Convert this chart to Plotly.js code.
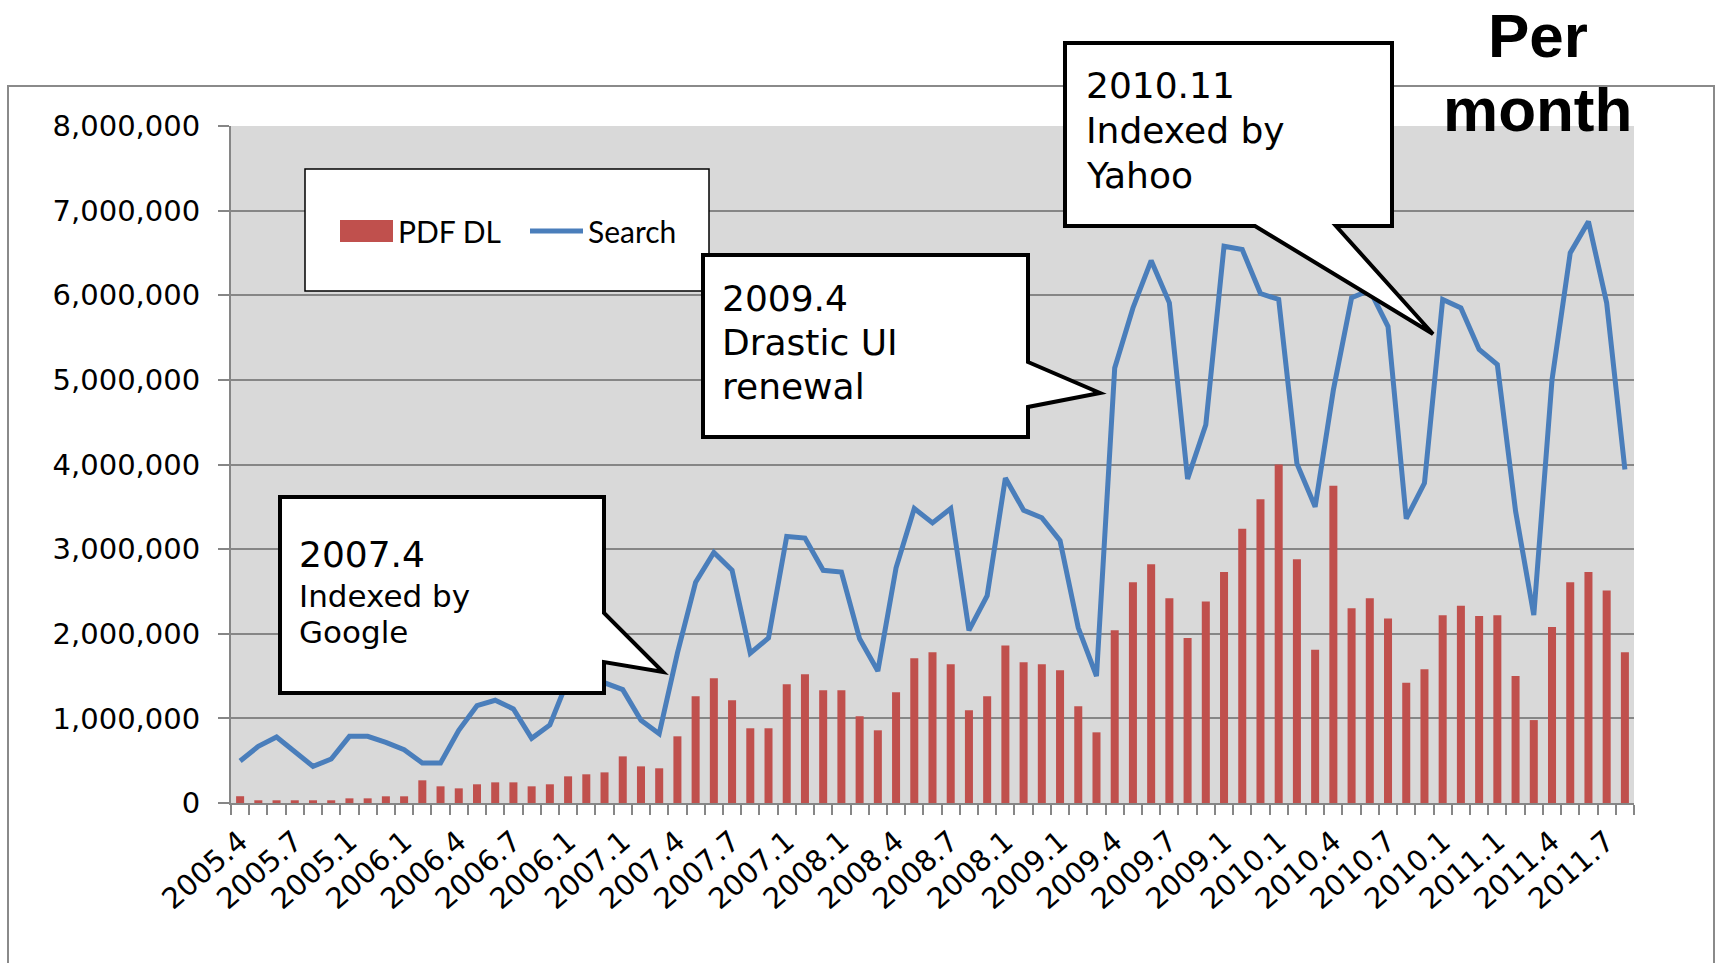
<!DOCTYPE html>
<html>
<head>
<meta charset="utf-8">
<script src="https://cdn.plot.ly/plotly-3.0.1.min.js"></script>
<style>html,body{margin:0;padding:0;background:#fff;}#chart{width:1716px;height:963px;}</style>
</head>
<body>
<div id="chart"></div>
<script>
// Monthly categories, 2005.4 – 2011.8
const months = [
  "2005.4","2005.5","2005.6","2005.7","2005.8","2005.9","2005.10","2005.11","2005.12",
  "2006.1","2006.2","2006.3","2006.4","2006.5","2006.6","2006.7","2006.8","2006.9","2006.10","2006.11","2006.12",
  "2007.1","2007.2","2007.3","2007.4","2007.5","2007.6","2007.7","2007.8","2007.9","2007.10","2007.11","2007.12",
  "2008.1","2008.2","2008.3","2008.4","2008.5","2008.6","2008.7","2008.8","2008.9","2008.10","2008.11","2008.12",
  "2009.1","2009.2","2009.3","2009.4","2009.5","2009.6","2009.7","2009.8","2009.9","2009.10","2009.11","2009.12",
  "2010.1","2010.2","2010.3","2010.4","2010.5","2010.6","2010.7","2010.8","2010.9","2010.10","2010.11","2010.12",
  "2011.1","2011.2","2011.3","2011.4","2011.5","2011.6","2011.7","2011.8"
];
// Tick labels as printed (every third month; October printed as ".1")
const tickLabels = [
  "2005.4","2005.7","2005.1","2006.1","2006.4","2006.7","2006.1","2007.1","2007.4","2007.7","2007.1",
  "2008.1","2008.4","2008.7","2008.1","2009.1","2009.4","2009.7","2009.1","2010.1","2010.4","2010.7",
  "2010.1","2011.1","2011.4","2011.7"
];
const pdfDL = [
  80000,32000,32000,32000,32000,32000,55000,55000,79000,
  79000,268000,197000,173000,221000,244000,244000,197000,221000,315000,339000,362000,
  551000,433000,410000,788000,1261000,1473000,1214000,883000,883000,1403000,1521000,1332000,
  1332000,1024000,859000,1308000,1710000,1781000,1639000,1095000,1261000,1860000,1663000,1639000,
  1568000,1143000,835000,2040000,2610000,2820000,2420000,1950000,2380000,2730000,3240000,3590000,
  4000000,2880000,1810000,3750000,2300000,2420000,2180000,1420000,1580000,2220000,2330000,2210000,
  2220000,1500000,980000,2080000,2610000,2730000,2510000,1780000
];
const search = [
  496000,670000,780000,615000,433000,520000,788000,788000,717000,
  630000,473000,473000,859000,1150000,1214000,1111000,764000,922000,1460000,1430000,1420000,
  1340000,977000,819000,1770000,2610000,2960000,2750000,1770000,1950000,3150000,3130000,2750000,
  2730000,1940000,1560000,2780000,3480000,3310000,3480000,2040000,2450000,3840000,3460000,3370000,
  3100000,2070000,1500000,5140000,5850000,6410000,5910000,3830000,4470000,6580000,6540000,6020000,
  5950000,4010000,3500000,4880000,5970000,6060000,5630000,3360000,3780000,5950000,5850000,5360000,
  5180000,3450000,2220000,5000000,6500000,6870000,5910000,3940000
];

const ticktext = months.map((m, i) => (i % 3 === 0 ? tickLabels[i / 3] : ""));

// pixel -> paper helpers (plot area: x 231..1634, y 126..803)
const L = 231, R = 1634, T = 126, B = 803;
const pX = x => (x - L) / (R - L);
const pY = y => (B - y) / (B - T);
const pathPx = pts => "M" + pts.map(p => pX(p[0]).toFixed(5) + "," + pY(p[1]).toFixed(5)).join(" L") + " Z";

const calloutStyle = {type: "path", xref: "paper", yref: "paper", layer: "above",
  fillcolor: "#ffffff", line: {color: "#000000", width: 4}};

const shapes = [
  // outer chart frame
  {type: "rect", xref: "paper", yref: "paper", layer: "below",
   x0: pX(8), x1: pX(1714), y0: pY(990), y1: pY(86),
   fillcolor: "rgba(0,0,0,0)", line: {color: "#8a8a8a", width: 2}},
  // legend box
  {type: "rect", xref: "paper", yref: "paper", layer: "above",
   x0: pX(305), x1: pX(709), y0: pY(291), y1: pY(169),
   fillcolor: "#ffffff", line: {color: "#000000", width: 1.5}},
  Object.assign({}, calloutStyle, {path: pathPx([[280,497],[604,497],[604,613],[663,672],[604,662],[604,693],[280,693]])}),
  Object.assign({}, calloutStyle, {path: pathPx([[703,255],[1028,255],[1028,362],[1100,393],[1028,407],[1028,437],[703,437]])}),
  Object.assign({}, calloutStyle, {path: pathPx([[1065,43],[1392,43],[1392,226],[1336,226],[1433,334],[1255,226],[1065,226]])})
];

const txt = (text, x, baseline, size, extra) => Object.assign({
  text: text, xref: "paper", yref: "paper", x: pX(x - 3), y: pY(baseline - 0.35 * size),
  xanchor: "left", yanchor: "middle", showarrow: false,
  font: {family: "DejaVu Sans", size: size, color: "#000000"}
}, extra || {});

const annotations = [
  txt("2007.4", 300, 567, 36),
  txt("Indexed by", 300, 607, 31),
  txt("Google", 300, 643, 31),
  txt("2009.4", 723, 311, 36),
  txt("Drastic UI", 723, 355, 36),
  txt("renewal", 723, 399, 36),
  txt("2010.11", 1087, 98, 36),
  txt("Indexed by", 1087, 143, 36),
  txt("Yahoo", 1087, 188, 36),
  {text: "Per", xref: "paper", yref: "paper", x: pX(1538), y: pY(57 - 21.5), xanchor: "center", yanchor: "middle",
   showarrow: false, font: {family: "Liberation Sans", size: 62, weight: 700, color: "#000000"}},
  {text: "month", xref: "paper", yref: "paper", x: pX(1537), y: pY(131 - 21.5), xanchor: "center", yanchor: "middle",
   showarrow: false, font: {family: "Liberation Sans", size: 62, weight: 700, color: "#000000"}}
];

const traces = [
  {type: "bar", name: "PDF DL", x: months, y: pdfDL, marker: {color: "#c0504d"}, hoverinfo: "x+y"},
  {type: "scatter", mode: "lines", name: "Search", x: months, y: search,
   line: {color: "#4a7ebb", width: 5}, hoverinfo: "x+y"}
];

const layout = {
  width: 1716, height: 963,
  margin: {l: L, r: 1716 - R, t: T, b: 963 - B, pad: 0},
  paper_bgcolor: "#ffffff", plot_bgcolor: "#d9d9d9",
  bargap: 0.56,
  showlegend: true,
  legend: {orientation: "h", x: pX(335), y: pY(231), xanchor: "left", yanchor: "middle",
    bgcolor: "rgba(0,0,0,0)", borderwidth: 0, itemwidth: 53, entrywidth: 122,
    font: {family: "Lato", size: 30, color: "#000000"}},
  xaxis: {type: "category", categoryorder: "array", categoryarray: months,
    range: [-0.5, months.length - 0.5],
    tickmode: "array", tickvals: months, ticktext: ticktext, tickson: "boundaries",
    ticks: "outside", ticklen: 10, tickwidth: 2, tickcolor: "#868686",
    showline: true, linecolor: "#868686", linewidth: 2, showgrid: false,
    tickangle: -41, ticklabelstandoff: 8,
    tickfont: {family: "DejaVu Sans", size: 29, color: "#000000"}},
  yaxis: {range: [0, 8000000], dtick: 1000000, tick0: 0, tickformat: ",d",
    showgrid: true, gridcolor: "#868686", gridwidth: 2, zeroline: false,
    ticks: "outside", ticklen: 11, tickwidth: 2, tickcolor: "#868686",
    showline: true, linecolor: "#868686", linewidth: 2, ticklabelstandoff: 12,
    tickfont: {family: "DejaVu Sans", size: 29, color: "#000000"}},
  shapes: shapes,
  annotations: annotations
};

Plotly.newPlot("chart", traces, layout, {displayModeBar: false, staticPlot: true}).then(function (gd) {
  // widen the bar legend swatch to the wide rectangle used in the original
  gd.querySelectorAll(".legend .legendpoints path").forEach(function (p) {
    const d = p.getAttribute("d") || "";
    if (d.indexOf("M6,6H-6V-6H6Z") === 0) p.setAttribute("d", "M26.5,11H-26.5V-11H26.5Z");
  });
});
</script>
</body>
</html>
